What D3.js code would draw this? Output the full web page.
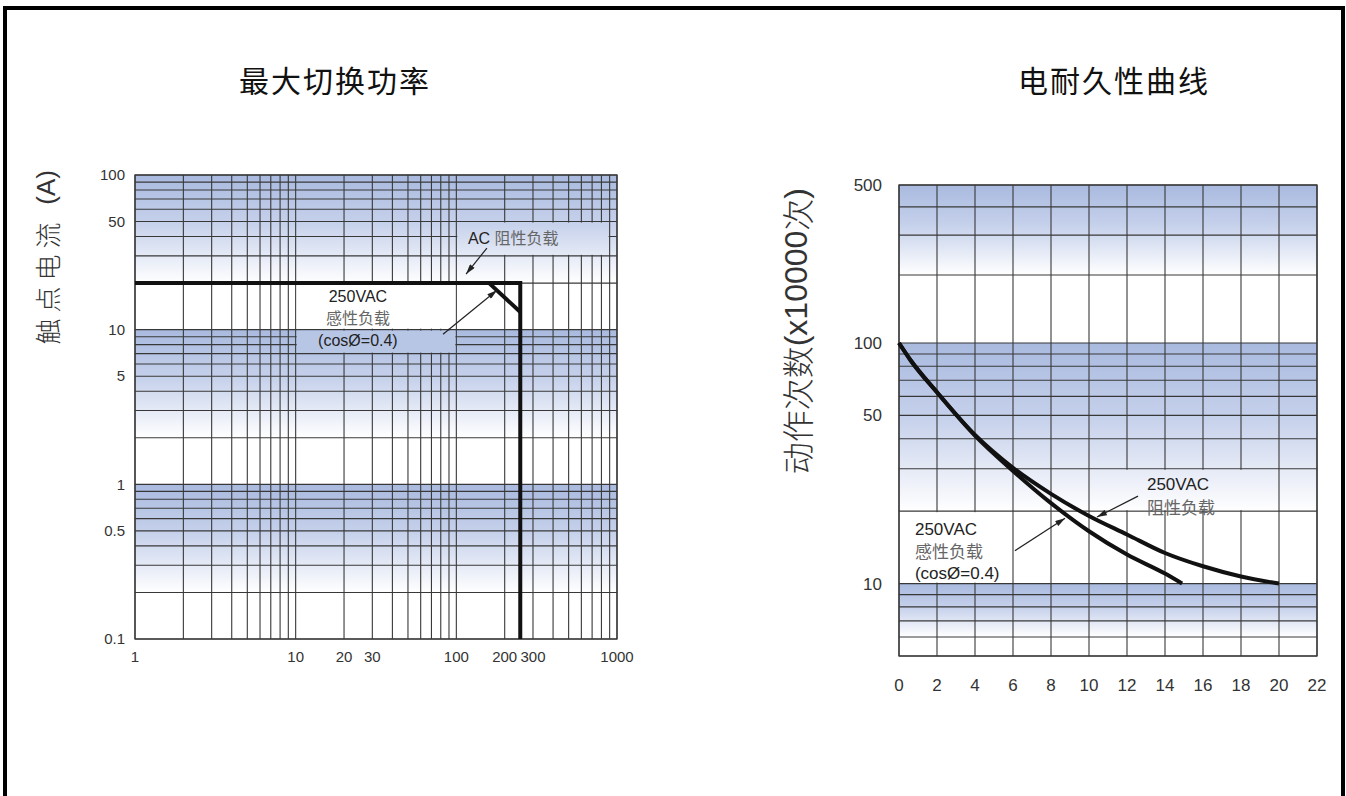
<!DOCTYPE html>
<html>
<head>
<meta charset="utf-8">
<script src="https://cdn.jsdelivr.net/npm/d3@7"></script>
<style>
  body { margin: 0; background: #fff; }
  svg { display: block; }
  .tick-label { font-family: "Liberation Sans", Arial, sans-serif; fill: #333; }
  .note { font-family: "Liberation Sans", "Noto Sans CJK SC", sans-serif; fill: #222; }
  .note .cn { fill: #666; font-family: "Noto Sans CJK SC", sans-serif; }
</style>
</head>
<body>
<svg id="chart" width="1346" height="796"></svg>
<script>
// ---- data: max switching power (V x A, log-log) ----
var powerXTicks = [1, 10, 20, 30, 100, 200, 300, 1000];
var powerYTicks = [100, 50, 10, 5, 1, 0.5, 0.1];
var resistiveLimit = [[1, 20], [250, 20], [250, 0.1]];
var inductiveLimit = [[160, 20], [250, 13]];

// ---- data: electrical endurance (A vs x10000 ops) ----
var lifeXTicks = [0, 2, 4, 6, 8, 10, 12, 14, 16, 18, 20, 22];
var lifeYTicks = [500, 100, 50, 10];
var lifeResistive = [[0, 100], [0.6, 85], [2, 62.4], [4, 41.5], [6, 30.3], [8, 23.6], [10, 19.1],
                     [12, 16], [14, 13.4], [16, 11.8], [18, 10.7], [20, 10]];
var lifeInductive = [[0, 100], [0.6, 85], [2, 62.4], [4, 41.2], [6, 29.4], [8, 21.6], [10, 16.5],
                     [12, 13.2], [14, 11], [14.9, 10]];

var svg = d3.select("#chart");
var defs = svg.append("defs");

defs.append("marker")
  .attr("id", "arrow")
  .attr("viewBox", "0 0 10 6")
  .attr("refX", 10).attr("refY", 3)
  .attr("markerWidth", 11).attr("markerHeight", 6)
  .attr("markerUnits", "userSpaceOnUse")
  .attr("orient", "auto")
  .append("path").attr("d", "M0,0L10,3L0,6Z").attr("fill", "#222");

// outer frame
svg.append("rect")
  .attr("x", 5).attr("y", 8).attr("width", 1338).attr("height", 800)
  .attr("fill", "none").attr("stroke", "#000").attr("stroke-width", 4);

// band gradient (userSpaceOnUse so the label boxes blend in)
function bandGradient(id, top, bottom) {
  var g = defs.append("linearGradient").attr("id", id)
    .attr("gradientUnits", "userSpaceOnUse")
    .attr("x1", 0).attr("x2", 0).attr("y1", top).attr("y2", bottom);
  g.append("stop").attr("offset", 0).attr("stop-color", "#a9badf");
  g.append("stop").attr("offset", 0.45).attr("stop-color", "#c6d1eb");
  g.append("stop").attr("offset", 1).attr("stop-color", "#ffffff");
  return "url(#" + id + ")";
}

function drawChart(opt) {
  var x = opt.x, y = opt.y;
  var x0 = x.range()[0], x1 = x.range()[x.range().length - 1];
  var yB = y.range()[0], yT = y.range()[y.range().length - 1];
  var g = svg.append("g");
  var fills = [];

  g.append("rect").attr("x", x0).attr("y", yT).attr("width", x1 - x0).attr("height", yB - yT).attr("fill", "#fff");

  opt.bands.forEach(function(b, i) {
    var f = bandGradient(opt.id + "-band" + i, y(b[0]), y(b[1]));
    fills.push(f);
    g.append("rect")
      .attr("x", x0).attr("y", y(b[0]))
      .attr("width", x1 - x0).attr("height", y(b[1]) - y(b[0]))
      .attr("fill", f);
  });

  // grid
  g.selectAll(".vgrid").data(opt.xGrid).enter().append("line")
    .attr("x1", function(d) { return x(d); }).attr("x2", function(d) { return x(d); })
    .attr("y1", yT).attr("y2", yB)
    .attr("stroke", "#383838").attr("stroke-width", 1.1);
  g.selectAll(".hgrid").data(y.ticks()).enter().append("line")
    .attr("x1", x0).attr("x2", x1)
    .attr("y1", function(d) { return y(d); }).attr("y2", function(d) { return y(d); })
    .attr("stroke", "#383838").attr("stroke-width", 1.1);
  g.append("rect").attr("x", x0).attr("y", yT).attr("width", x1 - x0).attr("height", yB - yT)
    .attr("fill", "none").attr("stroke", "#383838").attr("stroke-width", 1.3);

  // label boxes that hide the grid
  opt.boxes.forEach(function(b) {
    var fill = b.band != null ? fills[b.band] : b.fill;
    g.append("rect")
      .attr("x", x(b.x0) + 1).attr("y", y(b.y0) + 1)
      .attr("width", x(b.x1) - x(b.x0) - 2).attr("height", y(b.y1) - y(b.y0) - 2)
      .attr("fill", fill);
  });

  // tick labels
  g.selectAll(".ylab").data(opt.yTicks).enter().append("text")
    .attr("class", "tick-label").style("font-size", opt.tickSize + "px")
    .attr("x", x0 - opt.yLabelGap).attr("y", function(d) { return y(d); })
    .attr("dy", "0.35em").attr("text-anchor", "end")
    .text(function(d) { return d; });
  g.selectAll(".xlab").data(opt.xTicks).enter().append("text")
    .attr("class", "tick-label").style("font-size", opt.tickSize + "px")
    .attr("x", function(d) { return x(d); }).attr("y", yB + opt.xLabelGap)
    .attr("dy", "0.35em").attr("text-anchor", "middle")
    .text(function(d) { return d; });

  // series
  var line = d3.line()
    .x(function(d) { return x(d[0]); })
    .y(function(d) { return y(d[1]); })
    .curve(opt.curve || d3.curveLinear);
  opt.series.forEach(function(s) {
    g.append("path").attr("d", line(s))
      .attr("fill", "none").attr("stroke", "#111").attr("stroke-width", 4)
      .attr("stroke-linejoin", "miter").attr("stroke-linecap", "butt");
  });

  // arrows
  opt.arrows.forEach(function(a) {
    g.append("line")
      .attr("x1", x(a.from[0])).attr("y1", y(a.from[1]))
      .attr("x2", x(a.to[0])).attr("y2", y(a.to[1]))
      .attr("stroke", "#222").attr("stroke-width", 1.2)
      .attr("marker-end", "url(#arrow)");
  });

  // notes, one text per line
  opt.notes.forEach(function(n) {
    var yy = y(n.at[1]);
    n.lines.forEach(function(l, i) {
      if (i > 0) yy += n.step[i - 1];
      var t = g.append("text").attr("class", "note")
        .style("font-size", opt.noteSize + "px")
        .attr("x", x(n.at[0])).attr("y", yy)
        .attr("text-anchor", n.anchor || "start");
      l.forEach(function(part) {
        t.append("tspan").attr("class", part.cn ? "cn" : null).text(part.t);
      });
    });
  });

  // title
  svg.append("text")
    .attr("x", opt.title.x).attr("y", 92)
    .attr("text-anchor", "middle")
    .style("font-family", "'Noto Sans CJK SC', sans-serif")
    .style("font-size", "30px").style("font-weight", 400)
    .style("letter-spacing", "2px").style("fill", "#111")
    .text(opt.title.text);

  // y axis label, hung from the top of the plot
  var yl = svg.append("text")
    .attr("transform", "translate(" + opt.yLabel.x + "," + opt.yLabel.top + ") rotate(-90)")
    .attr("text-anchor", "end").attr("dominant-baseline", "central")
    .style("font-size", opt.yLabel.size + "px")
    .style("fill", "#333");
  opt.yLabel.parts.forEach(function(p) {
    yl.append("tspan")
      .style("font-family", p.cn ? "'Noto Sans CJK SC', sans-serif" : "'Liberation Sans', Arial, sans-serif")
      .style("font-weight", p.cn ? 300 : 400)
      .style("letter-spacing", (p.cn ? opt.yLabel.spacing : 0) + "px")
      .text(p.t);
  });
}

// ---- left: max switching power ----
var px = d3.scaleLog().domain([1, 1000]).range([135, 617]);
var py = d3.scaleLog().domain([0.1, 100]).range([639, 175]);

drawChart({
  id: "power", x: px, y: py,
  xGrid: px.ticks(), xTicks: powerXTicks, yTicks: powerYTicks,
  xLabelGap: 18, yLabelGap: 10, tickSize: 15, noteSize: 16,
  bands: [[100, 20], [10, 2], [1, 0.2]],
  boxes: [
    { x0: 100, x1: 900, y0: 50, y1: 30, band: 0 },
    { x0: 10, x1: 100, y0: 20, y1: 10, fill: "#fff" },
    { x0: 10, x1: 100, y0: 10, y1: 7, fill: "#b8c6e6" }
  ],
  series: [resistiveLimit, inductiveLimit],
  arrows: [
    { from: [155, 33.7], to: [115, 22.9] },
    { from: [82.6, 9.35], to: [179, 18] }
  ],
  notes: [
    { at: [118, 35.7], lines: [[{ t: "AC " }, { t: "阻性负载", cn: true }]], step: [] },
    { at: [24.4, 15.1], anchor: "middle", step: [22, 22],
      lines: [[{ t: "250VAC" }], [{ t: "感性负载", cn: true }], [{ t: "(cosØ=0.4)" }]] }
  ],
  title: { text: "最大切换功率", x: 335 },
  yLabel: { parts: [{ t: "触点电流 ", cn: true }, { t: "(A)" }], x: 46, top: 170, size: 26, spacing: 6 }
});

// ---- right: electrical endurance ----
var lx = d3.scaleLinear().domain([0, 22]).range([899, 1317]);
var ly = d3.scaleLog().domain([5, 100, 500]).range([656, 343, 185]);

drawChart({
  id: "life", x: lx, y: ly,
  xGrid: lifeXTicks, xTicks: lifeXTicks, yTicks: lifeYTicks,
  xLabelGap: 29, yLabelGap: 17, tickSize: 17, noteSize: 17,
  bands: [[500, 200], [100, 20], [10, 6]],
  boxes: [
    { x0: 0, x1: 6, y0: 20, y1: 10, fill: "#fff" },
    { x0: 10, x1: 20, y0: 30, y1: 20, band: 1 }
  ],
  curve: d3.curveMonotoneX,
  series: [lifeResistive, lifeInductive],
  arrows: [
    { from: [12.58, 23.1], to: [10.42, 18.9] },
    { from: [6.1, 13.7], to: [8.74, 18.7] }
  ],
  notes: [
    { at: [13.05, 24.5], step: [24], lines: [[{ t: "250VAC" }], [{ t: "阻性负载", cn: true }]] },
    { at: [0.84, 15.9], step: [23, 21],
      lines: [[{ t: "250VAC" }], [{ t: "感性负载", cn: true }], [{ t: "(cosØ=0.4)" }]] }
  ],
  title: { text: "电耐久性曲线", x: 1114 },
  yLabel: { parts: [{ t: "动作次数", cn: true }, { t: "(x10000" }, { t: "次", cn: true }, { t: ")" }],
            x: 796, top: 188, size: 32, spacing: 0 }
});
</script>
</body>
</html>
